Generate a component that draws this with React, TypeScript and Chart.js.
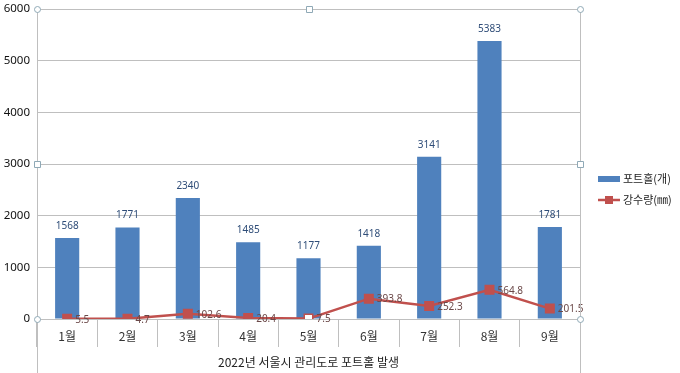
import React, { useEffect, useRef } from 'react';
import { Chart, registerables } from 'chart.js';
Chart.register(...registerables);

const categories = ['1월', '2월', '3월', '4월', '5월', '6월', '7월', '8월', '9월'];
const potholes = [1568, 1771, 2340, 1485, 1177, 1418, 3141, 5383, 1781];
const rainfall = [5.5, 4.7, 102.6, 20.4, 7.5, 393.8, 252.3, 564.8, 201.5];
const seriesNames = ['포트홀(개)', '강수량(㎜)'];
const axisTitle = '2022년 서울시 관리도로 포트홀 발생';
const yMin = 0;
const yMax = 6000;
const yStep = 1000;

const BAR = '#4F81BD';
const LINE = '#C0504D';
const GRID = '#BFBFBF';
const NUM_FONT = "'Noto Sans', 'Noto Sans CJK KR', sans-serif";
const KR_FONT = "'Noto Sans CJK KR', 'Noto Sans', sans-serif";

const labelsPlugin = {
  id: 'valueLabels',
  afterDatasetsDraw(chart: any) {
    const ctx = chart.ctx;
    ctx.save();
    const barMeta = chart.getDatasetMeta(0);
    ctx.font = `10px ${NUM_FONT}`;
    ctx.fillStyle = '#2F4D78';
    ctx.textAlign = 'center';
    ctx.textBaseline = 'middle';
    barMeta.data.forEach((el: any, i: number) => {
      ctx.fillText(String(potholes[i]), el.x, el.y - 12);
    });
    const lineMeta = chart.getDatasetMeta(1);
    ctx.fillStyle = '#6B4848';
    ctx.textAlign = 'left';
    lineMeta.data.forEach((el: any, i: number) => {
      ctx.fillText(String(rainfall[i]), el.x + 8, el.y + 1);
    });
    ctx.restore();
  },
};

const framePlugin = {
  id: 'frameAndLegend',
  afterDraw(chart: any) {
    const ctx = chart.ctx;
    const { left, right, top, bottom } = chart.chartArea;
    const H = chart.height;
    ctx.save();
    ctx.strokeStyle = GRID;
    ctx.lineWidth = 1;
    ctx.beginPath();
    ctx.moveTo(Math.round(left) + 0.5, top);
    ctx.lineTo(Math.round(left) + 0.5, H);
    ctx.moveTo(Math.round(right) + 0.5, top);
    ctx.lineTo(Math.round(right) + 0.5, H);
    ctx.stroke();

    const midY = (top + bottom) / 2;
    const midX = (left + right) / 2;
    ctx.strokeStyle = '#8FA9B6';
    ctx.fillStyle = '#ffffff';
    const circle = (x: number, y: number) => {
      ctx.beginPath();
      ctx.arc(Math.round(x) + 0.5, Math.round(y) + 0.5, 3, 0, Math.PI * 2);
      ctx.fill();
      ctx.stroke();
    };
    const square = (x: number, y: number) => {
      ctx.beginPath();
      ctx.rect(Math.round(x) - 2.5, Math.round(y) - 2.5, 6, 6);
      ctx.fill();
      ctx.stroke();
    };
    circle(left, top);
    circle(right, top);
    circle(left, bottom);
    circle(right, bottom);
    square(midX, top);
    square(left, midY);
    square(right, midY);

    const lx = right + 18;
    const y1 = 179;
    const y2 = 200;
    ctx.fillStyle = BAR;
    ctx.fillRect(lx, y1 - 3, 22, 6);
    ctx.strokeStyle = LINE;
    ctx.lineWidth = 2.5;
    ctx.beginPath();
    ctx.moveTo(lx, y2);
    ctx.lineTo(lx + 22, y2);
    ctx.stroke();
    ctx.fillStyle = LINE;
    ctx.fillRect(lx + 11 - 4, y2 - 4, 8, 8);
    ctx.fillStyle = '#222';
    ctx.font = `11px ${KR_FONT}`;
    ctx.textAlign = 'left';
    ctx.textBaseline = 'middle';
    ctx.fillText(seriesNames[0], lx + 25, y1);
    ctx.fillText(seriesNames[1], lx + 25, y2);
    ctx.restore();
  },
};

export default function App() {
  const ref = useRef<HTMLCanvasElement>(null);
  useEffect(() => {
    if (!ref.current) return;
    const pointBg = rainfall.map((_, i) => (i === 4 ? '#ffffff' : LINE));
    const chart = new Chart(ref.current, {
      type: 'bar',
      data: {
        labels: categories,
        datasets: [
          {
            type: 'bar',
            label: seriesNames[0],
            data: potholes,
            backgroundColor: BAR,
            borderWidth: 0,
            barPercentage: 0.4,
            categoryPercentage: 1,
            order: 2,
          } as any,
          {
            type: 'line',
            label: seriesNames[1],
            data: rainfall,
            borderColor: LINE,
            borderWidth: 2.5,
            pointStyle: 'rect',
            pointRadius: 6,
            pointBackgroundColor: pointBg,
            pointBorderColor: LINE,
            pointBorderWidth: 1.5,
            tension: 0,
            order: 1,
          } as any,
        ],
      },
      options: {
        responsive: false,
        animation: false,
        layout: { padding: { top: 9, right: 100, left: 0, bottom: 0 } },
        plugins: {
          legend: { display: false },
          tooltip: { enabled: false },
        },
        scales: {
          x: {
            offset: true,
            grid: {
              offset: true,
              drawOnChartArea: false,
              drawTicks: true,
              tickLength: 28,
              color: GRID,
            },
            border: { display: true, color: GRID },
            ticks: {
              padding: -18,
              color: '#333',
              font: { family: KR_FONT, size: 12 },
            },
            title: {
              display: true,
              text: axisTitle,
              color: '#222',
              padding: { top: 0, bottom: 3 },
              font: { family: KR_FONT, size: 12 },
            },
            afterFit: (s: any) => {
              s.height = 54;
              s.paddingLeft = 0;
              s.paddingRight = 0;
            },
          },
          y: {
            min: yMin,
            max: yMax,
            grid: { color: GRID, drawTicks: false },
            border: { display: true, color: GRID },
            ticks: {
              stepSize: yStep,
              padding: 7,
              color: '#111',
              font: { family: NUM_FONT, size: 11.5 },
              callback: (v: any) => String(v),
            },
            afterFit: (s: any) => {
              s.width = 37;
              s.paddingTop = 0;
              s.paddingBottom = 0;
            },
          },
        },
      },
      plugins: [labelsPlugin, framePlugin],
    });
    return () => chart.destroy();
  }, []);
  return (
    <div style={{ position: 'fixed', left: 0, top: 0, width: 680, height: 373, background: '#fff' }}>
      <canvas ref={ref} width={680} height={373} style={{ display: 'block' }} />
    </div>
  );
}
